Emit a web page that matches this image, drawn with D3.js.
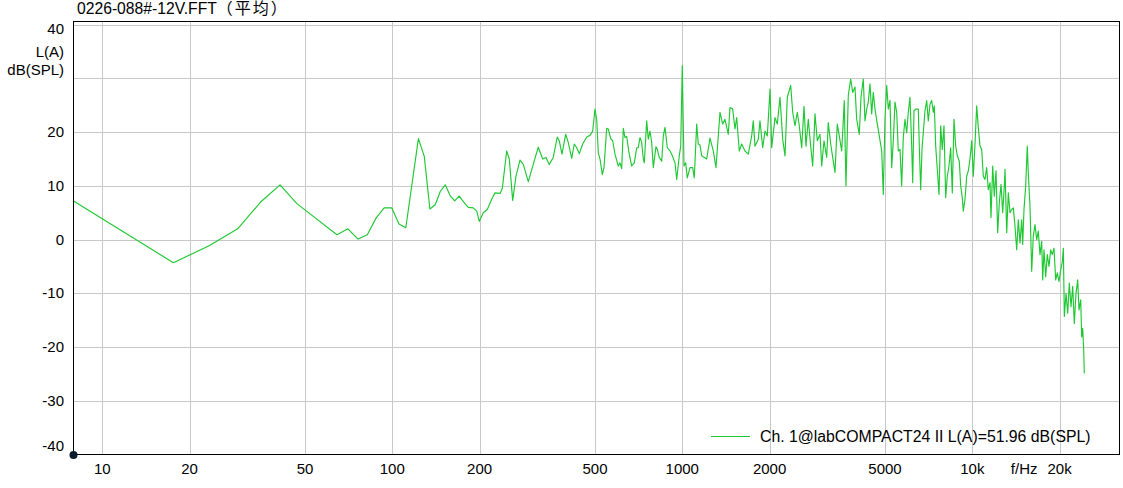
<!DOCTYPE html>
<html><head><meta charset="utf-8">
<script src="https://cdn.jsdelivr.net/npm/d3@7"></script>
<style>
body{margin:0;background:#fff;}
svg{display:block;}
text{font-family:"Liberation Sans",Arial,"Noto Sans CJK SC",sans-serif;fill:#000;}
</style>
</head><body>
<svg id="c" width="1123" height="488"></svg>
<script>
const titleMain = "0226-088#-12V.FFT";
const titleSuffix = "（平均）";
const legendLabel = "Ch. 1@labCOMPACT24 II L(A)=51.96 dB(SPL)";
const yUnitLabels = ["L(A)", "dB(SPL)"];
const xUnitLabel = "f/Hz";
const xTicks = [10, 20, 50, 100, 200, 500, 1000, 2000, 5000, 10000, 20000];
const xTickLabels = ["10", "20", "50", "100", "200", "500", "1000", "2000", "5000", "10k", "20k"];
const yTicks = [40, 30, 20, 10, 0, -10, -20, -30, -40];
const yTickLabels = ["40", "", "20", "10", "0", "-10", "-20", "-30", "-40"];

const freqs = [
7.96,17.58,23.44,29.30,35.16,41.02,46.88,64.45,70.31,76.17,82.03,87.89,93.75,99.61,105.47,111.33,
123.05,128.91,134.77,140.63,146.48,152.34,158.20,164.06,169.92,
178.1,182.8,190.2,195.5,199.5,206.0,212.6,220.2,226.0,235.2,239.5,248.0,253.2,260.1,267.0,275.6,283.0,294.4,
306.3,318.7,330.1,338.8,347.8,359.0,370.6,376.6,384.7,396.2,404.4,415.5,424.2,432.4,441.4,453.5,468.1,480.5,
490.9,500.0,506.8,513.3,520.3,529.9,537.0,548.7,555.7,566.4,575.4,586.0,601.6,609.8,618.1,626.0,634.5,643.1,
654.9,669.1,683.1,696.2,705.1,714.7,724.4,733.7,739.6,753.8,763.4,773.8,784.3,794.3,811.5,820.0,833.1,849.1,
860.0,871.7,887.8,907.0,919.3,943.7,956.5,976.5,987.4,1000,
1013.6,1027.4,1040.5,1063.0,1086.0,1099.9,1121.1,1135.5,1151.0,1166.6,1213.8,1246.0,1279.1,1306.8,1349.0,
1378.2,1403.6,1440.8,1460.4,1492.0,1519.5,1540.2,1572.3,1602.6,1645.1,1688.7,1734.9,1757.1,1781.1,1828.4,
1853.2,1893.4,1928.3,1963.8,2007.2,2033.5,2087.7,2126.2,2172.2,2219.3,2260.3,2301.9,2364.9,2402.7,2447.0,
2492.0,2531.9,2580.6,2628.3,2670.3,2719.5,2771.8,2816.2,2868.1,2920.9,2984.2,3024.8,3080.5,3147.2,3187.3,
3248.5,3300.5,3361.3,3423.3,3478.0,3545.0,3590.3,3618.9,3668.1,3735.7,3807.6,3868.6,3939.9,3993.4,4076.6,
4132.2,4208.3,4265.8,4323.5,4378.9,4438.4,4498.6,4556.2,4618.2,4703.4,4778.7,4870.7,4932.8,5000.3,5068.2,
5132.9,5202.6,5273.3,5340.6,5413.1,5486.6,5556.8,5632.3,5708.8,5781.8,5860.4,5940.0,6016.0,6097.6,6180.5,
6229.8,6294.5,6395.2,6513.0,6564.9,6638.3,6707.1,6776.7,6868.8,6962.4,7051.4,7147.1,7244.4,7337.0,7395.5,
7478.0,7573.7,7676.5,7780.7,7880.2,7987.2,8096.1,8199.5,8311.2,8424.0,8531.6,8647.6,8765.7,8877.8,9019.6,
9120.1,9236.5,9310.1,9437.1,9565.2,9687.6,9819.0,9952.5,
10080,10217,10356,10488,10630,10775,10913,11061,11211,11355,11510,11601,11759,11909,12071,12235,12392,12560,
12731,12894,12966,13142,13310,13490,13674,13849,14036,14227,14408,14604,14802,14920,15075,15280,15475,15598,
15810,16026,16230,16451,16675,16887,17117,17349,17488,17669,17909,18138,18385,18634,18874,19130,19390,19638,
19905,20184,20441,20604,20768,21050,21330,21602,21896,22193,22477,22783,23092,23331,23649,23837,24027,24219,24335
];

const levels = [
7.2,-4.3,-1.1,2.0,7.0,10.2,6.7,0.9,2.0,0.1,0.9,4.0,5.9,5.9,2.9,2.2,
18.8,15.5,5.7,6.5,9.0,10.2,8.2,7.2,8.1,
6.7,6.0,5.9,5.3,3.4,5.0,5.6,7.5,8.7,8.6,9.5,16.5,15.0,7.3,11.8,14.8,14.0,10.8,
14.0,17.2,15.0,15.3,14.0,15.3,19.1,18.4,15.9,19.6,18.1,15.1,17.8,17.1,16.0,17.8,19.1,19.4,
20.2,24.3,22.4,16.2,15.0,12.1,13.4,20.7,20.6,18.8,18.4,15.9,13.7,14.3,13.2,20.7,19.0,19.2,
16.2,13.7,14.3,17.1,17.1,19.0,18.1,15.0,14.3,22.1,18.7,20.2,18.1,13.4,17.3,16.8,15.3,14.6,
19.3,20.9,17.1,16.5,15.9,14.3,11.2,15.6,17.4,32.4,
13.7,14.3,11.5,13.4,13.4,11.5,21.5,17.8,17.6,15.6,15.0,18.9,16.5,13.4,23.7,
21.5,22.4,19.6,24.6,24.3,20.6,22.7,16.5,17.8,16.5,15.9,19.3,22.1,17.4,18.7,
22.1,17.1,20.2,19.3,28.0,17.1,22.7,21.5,26.5,18.7,15.6,26.5,28.7,23.7,21.2,
23.7,21.2,17.1,24.8,17.4,22.4,17.4,13.7,23.4,18.4,19.6,13.7,18.4,15.3,21.8,
17.8,15.3,12.5,21.5,19.3,16.5,22.1,25.9,10.0,26.8,29.9,27.4,28.4,22.4,19.6,
26.5,29.9,22.1,24.3,25.6,29.0,23.4,27.4,24.3,21.5,19.3,16.5,8.4,22.7,28.7,
24.3,25.9,13.4,18.4,25.6,23.7,16.5,16.8,10.0,19.0,22.4,19.9,23.7,26.5,17.4,
10.6,24.0,24.3,24.3,17.4,9.3,16.8,19.9,24.0,25.9,22.1,25.2,25.9,23.7,24.9,
17.4,13.1,8.4,21.2,16.8,21.2,7.8,11.8,13.7,17.1,8.7,22.4,17.4,15.6,14.6,
10.0,7.8,5.3,7.5,11.8,12.8,15.0,18.4,
11.8,17.8,24.9,20.9,17.4,16.8,11.8,11.2,13.4,9.3,10.6,4.1,13.7,8.1,12.8,1.3,6.9,10.3,
5.0,10.0,13.1,1.3,8.7,5.0,5.6,5.9,2.5,-1.9,3.7,-0.6,3.7,-0.9,5.6,10.0,17.4,12.5,
6.2,-5.9,0.6,2.8,0.0,1.6,-2.8,-0.3,-7.5,-1.9,-6.9,-2.8,-5.0,-1.9,-2.8,-1.6,-7.5,-6.2,
-7.8,-5.6,-4.1,-1.6,-14.3,-10.0,-13.7,-8.1,-12.5,-8.7,-15.6,-10.0,-7.5,-13.1,-11.2,-18.1,-16.5,-20.6,-24.9
];

const svg = d3.select("#c");
const L = 73.5, R = 1119.5, T = 21.5, B = 454.5;
const x = d3.scaleLog().domain([7.957, 32180]).range([L, R]);
const y = d3.scaleLinear().domain([-40, 40.6]).range([B, T]);
const px = v => Math.round(v) + 0.5;

// gridlines
svg.append("g").selectAll("line").data(xTicks).join("line")
  .attr("x1", d => px(x(d))).attr("x2", d => px(x(d)))
  .attr("y1", T).attr("y2", B)
  .attr("stroke", "#c8c8c8").attr("stroke-width", 1);
svg.append("g").selectAll("line").data(yTicks.filter(d => d > -40)).join("line")
  .attr("y1", d => px(y(d))).attr("y2", d => px(y(d)))
  .attr("x1", L).attr("x2", R)
  .attr("stroke", "#c8c8c8").attr("stroke-width", 1);

// data line
svg.append("clipPath").attr("id", "clip").append("rect")
  .attr("x", L).attr("y", T).attr("width", R - L).attr("height", B - T);
const pts = freqs.map((f, i) => [f, levels[i]]);
svg.append("path").datum(pts)
  .attr("clip-path", "url(#clip)")
  .attr("fill", "none").attr("stroke", "#1ec832").attr("stroke-width", 1.15)
  .attr("stroke-linejoin", "round")
  .attr("d", d3.line().x(d => x(d[0])).y(d => y(d[1])));

// frame
svg.append("rect").attr("x", L).attr("y", T).attr("width", R - L).attr("height", B - T)
  .attr("fill", "none").attr("stroke", "#000").attr("stroke-width", 1);

// x tick labels
svg.append("g").selectAll("text").data(xTicks).join("text")
  .attr("x", d => x(d)).attr("y", 474)
  .attr("text-anchor", "middle").attr("font-size", 15)
  .text((d, i) => xTickLabels[i]);
svg.append("text").attr("x", x(15100)).attr("y", 474)
  .attr("text-anchor", "middle").attr("font-size", 15).text(xUnitLabel);

// y tick labels
svg.append("g").selectAll("text").data(yTicks).join("text")
  .attr("x", 64)
  .attr("y", d => {
    let yy = y(d);
    if (d === 40) yy += 4;
    if (d === -40) yy -= 9;
    return yy + 5;
  })
  .attr("text-anchor", "end").attr("font-size", 15)
  .text((d, i) => yTickLabels[i]);
svg.append("text").attr("x", 64).attr("y", 57).attr("text-anchor", "end").attr("font-size", 15).text(yUnitLabels[0]);
svg.append("text").attr("x", 64).attr("y", 75).attr("text-anchor", "end").attr("font-size", 15).text(yUnitLabels[1]);

// title
const tt = svg.append("text").attr("x", 77).attr("y", 14).attr("font-size", 15.7);
tt.append("tspan").text(titleMain);
tt.append("tspan").attr("font-size", 16).attr("letter-spacing", 2).text(titleSuffix);

// legend
svg.append("line").attr("x1", 711).attr("x2", 750).attr("y1", 436.5).attr("y2", 436.5)
  .attr("stroke", "#1ec832").attr("stroke-width", 1.1);
svg.append("text").attr("x", 760).attr("y", 442).attr("font-size", 15.8).text(legendLabel);

// origin dot
svg.append("circle").attr("cx", L).attr("cy", B + 0.5).attr("r", 4).attr("fill", "#0b1a2c");
</script>
</body></html>
